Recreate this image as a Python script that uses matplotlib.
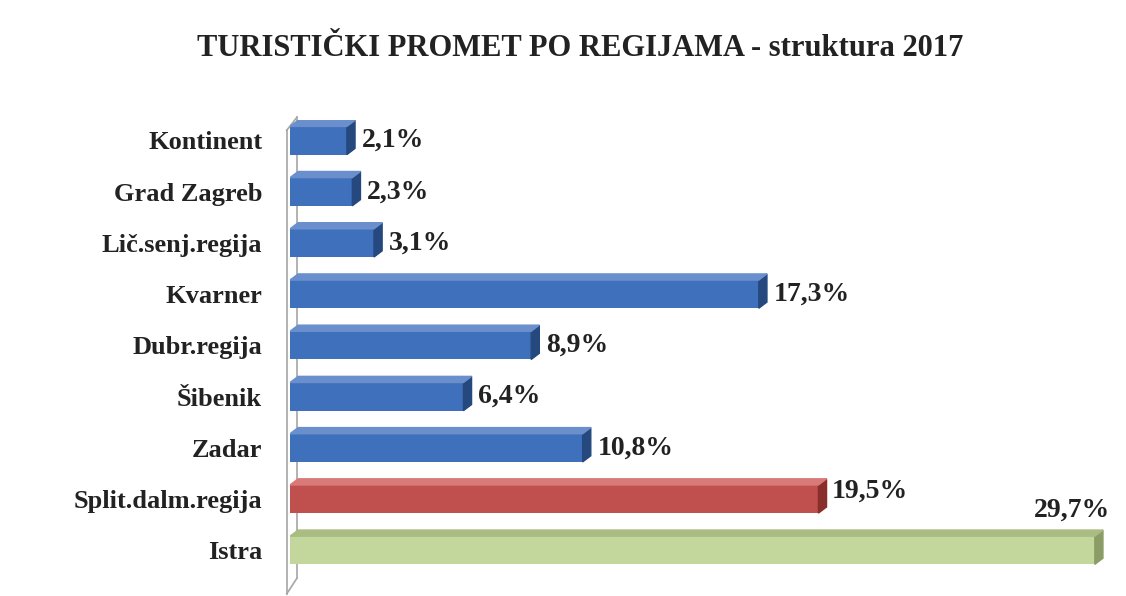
import matplotlib.pyplot as plt
from matplotlib.patches import Polygon

regions = ["Kontinent", "Grad Zagreb", "Lič.senj.regija", "Kvarner", "Dubr.regija",
           "Šibenik", "Zadar", "Split.dalm.regija", "Istra"]
shares = [2.1, 2.3, 3.1, 17.3, 8.9, 6.4, 10.8, 19.5, 29.7]
labels = ["2,1%", "2,3%", "3,1%", "17,3%", "8,9%", "6,4%", "10,8%", "19,5%", "29,7%"]

face = ["#3F70BC"] * 7 + ["#C0504D", "#C3D69B"]
side = ["#25487E"] * 7 + ["#8A2E2B", "#8C9C66"]
top = ["#6A8FCC"] * 7 + ["#D87A77", "#A9BC82"]

plt.rcParams['font.family'] = ['Liberation Serif', 'DejaVu Serif']

fig = plt.figure(figsize=(11.26, 5.96), dpi=100)
fig.patch.set_facecolor("white")
ax = fig.add_axes([290 / 1126, 15 / 596, 820 / 1126, 461 / 596])

h = 0.55
d = 0.3    # depth in x units
dy = 0.12  # depth in y units
ys = list(range(len(regions)))

ax.barh(ys, shares, height=h, color=face, edgecolor="none", zorder=3)
for y, v, c_side, c_top in zip(ys, shares, side, top):
    ax.add_patch(Polygon([(v, y - h / 2), (v + d, y - h / 2 - dy),
                          (v + d, y + h / 2 - dy), (v, y + h / 2)],
                         closed=True, color=c_side, zorder=4))
    ax.add_patch(Polygon([(0, y - h / 2), (d, y - h / 2 - dy),
                          (v + d, y - h / 2 - dy), (v, y - h / 2)],
                         closed=True, color=c_top, zorder=4))

for y, v, lab in zip(ys, shares, labels):
    if lab == "29,7%":
        ax.text(v + 0.55, y - 0.78, lab, ha="right", va="center",
                fontsize=20, fontweight="bold", color="#222222")
    elif lab == "19,5%":
        ax.text(v + 0.5, y - 0.15, lab, ha="left", va="center",
                fontsize=20, fontweight="bold", color="#222222")
    else:
        ax.text(v + 0.55, y, lab, ha="left", va="center",
                fontsize=20, fontweight="bold", color="#222222")

ax.set_xlim(0, 30.26)
ax.set_ylim(8.6, -0.4)
ax.set_yticks(ys)
ax.set_yticklabels(regions, fontsize=19, fontweight="bold", color="#222222")
ax.tick_params(axis="y", length=0, pad=20)
ax.set_xticks([])
for s in ax.spines.values():
    s.set_visible(False)

# back wall of the 3D axis
ax.plot([-0.12, -0.12], [8.85, -0.2], color="#A6A6A6", lw=1.2, clip_on=False, zorder=2)
ax.plot([0.25, 0.25], [8.55, -0.45], color="#A6A6A6", lw=1.2, clip_on=False, zorder=2)
ax.plot([-0.12, 0.25], [-0.2, -0.45], color="#A6A6A6", lw=1.2, clip_on=False, zorder=2)
ax.plot([-0.12, 0.25], [8.85, 8.55], color="#A6A6A6", lw=1.2, clip_on=False, zorder=2)

fig.text(0.515, 0.918, "TURISTIČKI PROMET PO REGIJAMA - struktura 2017",
         ha="center", va="center", fontsize=22, fontweight="bold", color="#222222")

fig.savefig("out.png", dpi=100)
